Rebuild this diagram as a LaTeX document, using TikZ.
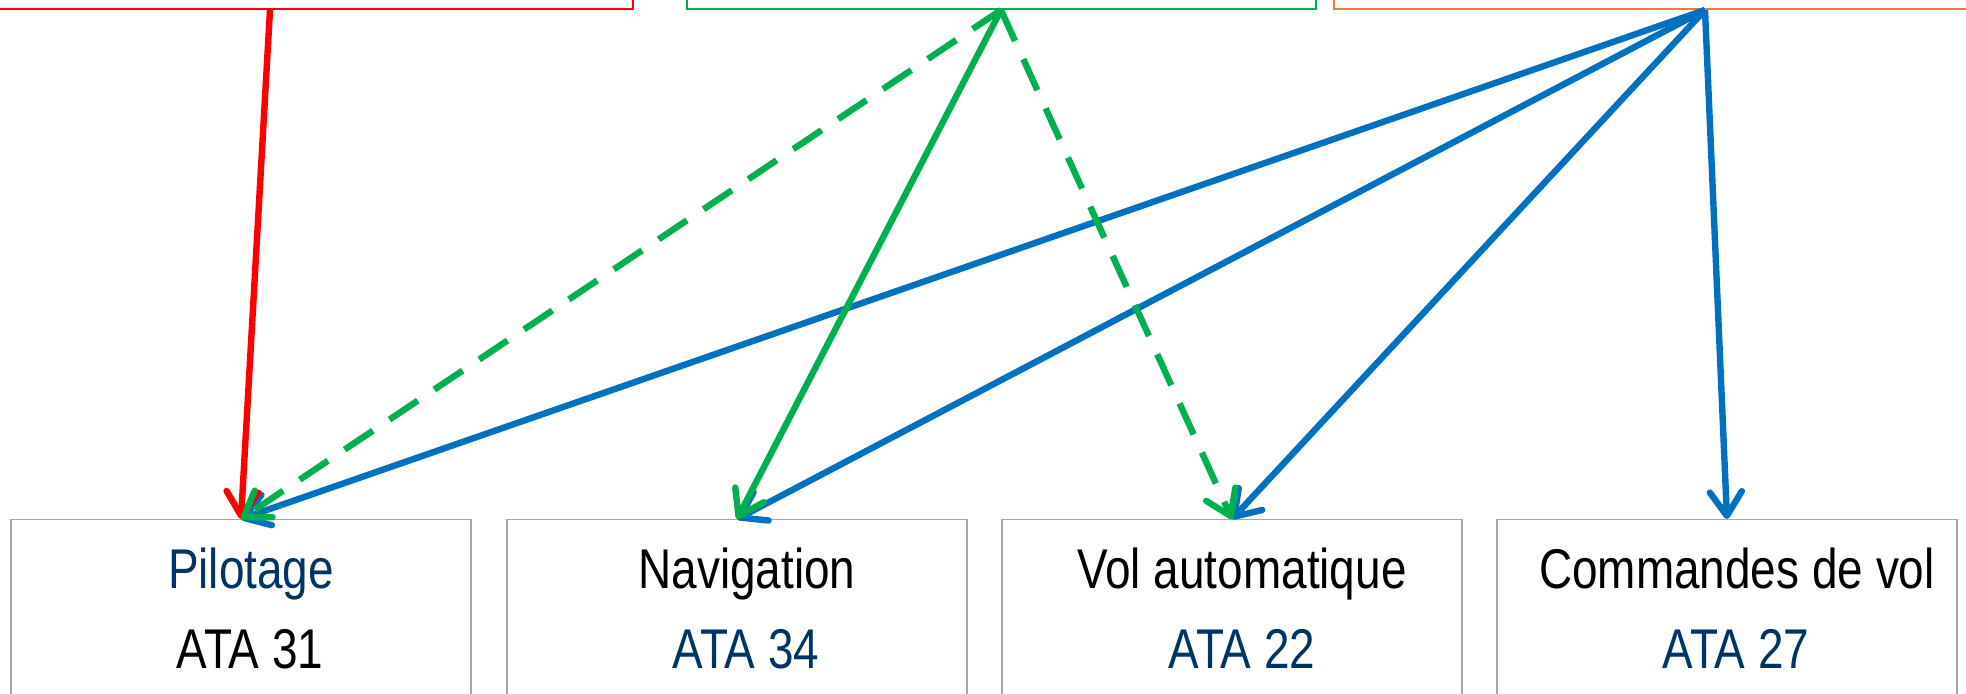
\documentclass[tikz,border=0pt]{standalone}
\usepackage{fontspec}
\setmainfont{Liberation Sans}[FakeStretch=0.82]
\usetikzlibrary{arrows.meta}
\definecolor{navy}{RGB}{0,51,102}
\definecolor{boxgray}{RGB}{166,166,166}
\definecolor{srcred}{RGB}{255,0,0}
\definecolor{srcgreen}{RGB}{0,176,80}
\definecolor{srcorange}{RGB}{237,125,49}
\definecolor{linkblue}{RGB}{0,112,192}
\begin{document}
\begin{tikzpicture}[x=0.5pt,y=-0.5pt,
  unitbox/.style={draw=boxgray, line width=0.7pt, minimum width=230pt,
    minimum height=120pt, inner sep=0pt, anchor=north},
  unitlabel/.style={font=\fontsize{28}{30}\selectfont, anchor=base, inner sep=0pt},
  srcbox/.style={line width=1pt, minimum height=40pt, inner sep=0pt, anchor=south},
  link/.style={line width=3.2pt,
    -{Straight Barb[length=12pt,width=16pt,round]}},
  dashedlink/.style={link, dash pattern=on 17pt off 10pt},
]
\useasboundingbox (0,0) rectangle (1966,693);
\clip (0,0) rectangle (1966,693);

% source boxes along the top edge
\node[srcbox, draw=srcred, minimum width=363pt] (srcR) at (270,10) {};
\node[srcbox, draw=srcgreen, minimum width=314.5pt] (srcG) at (1001,10) {};
\node[srcbox, draw=srcorange, minimum width=371pt] (srcO) at (1705,10) {};

% system boxes
\node[unitbox] (pil) at (241,519) {};
\node[unitbox] (nav) at (737,519) {};
\node[unitbox] (auto) at (1232,519) {};
\node[unitbox] (cmd) at (1727,519) {};

\node[unitlabel, text=navy] (pilA) at (251,588) {Pilotage};
\node[unitlabel] (pilB) at (250,668) {ATA 31};
\node[unitlabel] (navA) at (747,588) {Navigation};
\node[unitlabel, text=navy] (navB) at (746,668) {ATA 34};
\node[unitlabel] (autoA) at (1242,588) {Vol automatique};
\node[unitlabel, text=navy] (autoB) at (1242,668) {ATA 22};
\node[unitlabel] (cmdA) at (1737,588) {Commandes de vol};
\node[unitlabel, text=navy] (cmdB) at (1736,668) {ATA 27};

% links from the orange source
\draw[link, linkblue] (srcO.south) -- (pil.north);
\draw[link, linkblue] (srcO.south) -- (nav.north);
\draw[link, linkblue] (srcO.south) -- (auto.north);
\draw[link, linkblue] (srcO.south) -- (cmd.north);

% link from the red source
\draw[link, srcred] (srcR.south) -- (pil.north);

% links from the green source
\draw[link, srcgreen] (srcG.south) -- (nav.north);
\draw[dashedlink, srcgreen] (srcG.south) -- (pil.north);
\draw[dashedlink, srcgreen] (srcG.south) -- (auto.north);
\end{tikzpicture}
\end{document}
